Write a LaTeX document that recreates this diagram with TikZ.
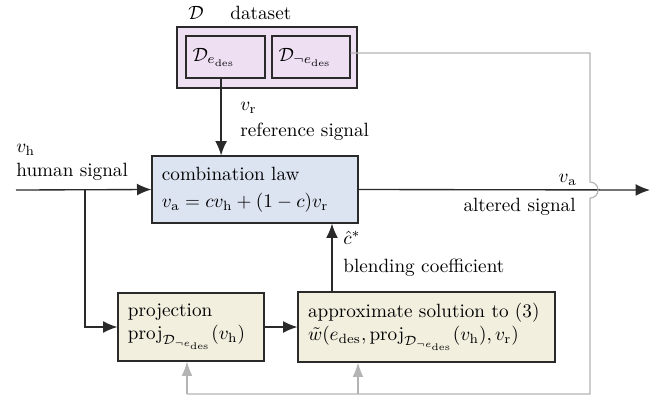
\documentclass[tikz,border=0pt]{standalone}
\usepackage{amsmath}
\usetikzlibrary{arrows.meta,calc}
\definecolor{dsfill}{HTML}{EEDFF3}
\definecolor{combfill}{HTML}{DCE3F1}
\definecolor{crfill}{HTML}{F2EFDF}
\definecolor{lgray}{HTML}{B4B4B4}
\definecolor{dline}{HTML}{2A2A2A}
\begin{document}
\begin{tikzpicture}[x=0.5212pt,y=-0.5212pt,
  box/.style={draw=dline, line width=0.6pt, inner xsep=5.2pt, inner ysep=0pt, align=left},
  arr/.style={draw=dline, line width=0.7pt, -{Latex[length=7.5pt,width=6.2pt]}},
  gline/.style={draw=lgray, line width=0.6pt},
  garr/.style={draw=lgray, line width=0.6pt, -{Latex[length=7.5pt,width=5.6pt]}},
  lbl/.style={inner sep=0pt, anchor=west},
  rlbl/.style={inner sep=0pt, anchor=east}]
\useasboundingbox (0,0) rectangle (660,401);

% dataset
\node[box, fill=dsfill, minimum width=93.8pt, minimum height=31.8pt] (ds) at (267,57.5) {};
\node[box, fill=dsfill, inner xsep=3.5pt, text width=34.2pt, minimum height=21.9pt] (dsA) at (225.5,57) {$\mathcal{D}_{e_{\mathrm{des}}}$};
\node[box, fill=dsfill, inner xsep=3.5pt, text width=33.7pt, minimum height=21.9pt] (dsB) at (311,57) {$\mathcal{D}_{\neg e_{\mathrm{des}}}$};
\node[lbl] (dsl) at (188,13) {$\mathcal{D}$};
\node[lbl] (dsn) at (230,13) {dataset};

% combination law
\node[box, fill=combfill, text width=97pt, minimum height=34.9pt] (comb) at (255,189.5)
  {combination law\\[2pt] $v_{\mathrm a}=cv_{\mathrm h}+(1-c)v_{\mathrm r}$};

% bottom boxes
\node[box, fill=crfill, text width=65.7pt, minimum height=35.4pt] (proj) at (191,327)
  {projection\\ $\mathrm{proj}_{\mathcal{D}_{\neg e_{\mathrm{des}}}}(v_{\mathrm h})$};
\node[box, fill=crfill, text width=123.5pt, minimum height=36.5pt] (approx) at (426.5,327)
  {approximate solution to (3)\\ $\tilde w(e_{\mathrm{des}},\mathrm{proj}_{\mathcal{D}_{\neg e_{\mathrm{des}}}}(v_{\mathrm h}),v_{\mathrm r})$};

% labels
\node[lbl] (vh) at (16,150) {$v_{\mathrm h}$};
\node[lbl] (hs) at (16,172) {human signal};
\node[lbl] (vr) at (240,108) {$v_{\mathrm r}$};
\node[lbl] (rs) at (240,132) {reference signal};
\node[rlbl] (va) at (577,180) {$v_{\mathrm a}$};
\node[rlbl] (as) at (576,207) {altered signal};
\node[lbl] (ch) at (343,238) {$\hat c^{*}$};
\node[lbl] (bc) at (343,268) {blending coefficient};

% coordinates
\coordinate (hin) at (16,190);
\coordinate (br) at (85,190);
\coordinate (cs) at (332,292);
\coordinate (out) at (650,190);
\coordinate (g1) at (590,53);
\coordinate (g2) at (590,182);
\coordinate (g3) at (590,394);
\coordinate (g4) at (187,394);
\coordinate (g5) at (358,394);

% black connectors
\draw[arr] (hin) -- (comb.west);
\draw[arr] (br) |- (proj.west);
\draw[arr] (proj) -- (approx);
\draw[arr] (cs) -- (cs |- comb.south);
\draw[arr] ([xshift=-2.3pt]dsA.south) -- ([xshift=-2.3pt]dsA.south |- comb.north);
\draw[arr] (comb.east) -- (out);

% gray connectors
\draw[gline] (g1 -| dsB.east) -- (g1) -- (g2) arc[start angle=90, end angle=-90, radius=4.2pt] -- (g3) -- (g4);
\draw[garr] (g4) -- (g4 |- proj.south);
\draw[garr] (g5) -- (g5 |- approx.south);
\end{tikzpicture}
\end{document}
